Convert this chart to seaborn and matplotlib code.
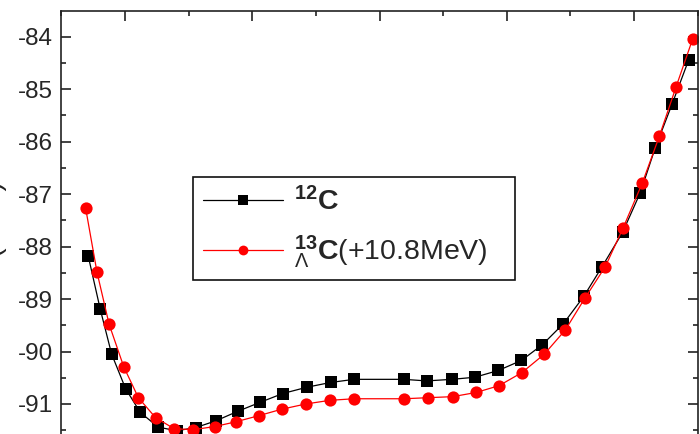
import matplotlib
matplotlib.use("Agg")
import matplotlib.pyplot as plt
from matplotlib.ticker import MultipleLocator
import numpy as np
import pandas as pd
import seaborn as sns

# Deformation grid and binding energies (MeV)
beta_c12 = [-0.458, -0.439, -0.421, -0.399, -0.376, -0.348, -0.319, -0.289, -0.257,
            -0.223, -0.188, -0.152, -0.114, -0.077, -0.040, 0.038, 0.074, 0.114,
            0.150, 0.187, 0.223, 0.256, 0.289, 0.321, 0.350, 0.382, 0.410, 0.433,
            0.460, 0.486]
energy_c12 = [-88.17, -89.19, -90.05, -90.71, -91.16, -91.44, -91.51, -91.45, -91.32,
              -91.14, -90.97, -90.80, -90.68, -90.59, -90.53, -90.53, -90.56, -90.53,
              -90.49, -90.36, -90.17, -89.87, -89.47, -88.95, -88.38, -87.73, -86.97,
              -86.13, -85.28, -84.44]

beta_c13l = [-0.462, -0.444, -0.425, -0.402, -0.379, -0.352, -0.323, -0.293, -0.259,
             -0.226, -0.189, -0.154, -0.116, -0.078, -0.040, 0.039, 0.076, 0.115,
             0.152, 0.188, 0.224, 0.259, 0.292, 0.323, 0.355, 0.383, 0.413, 0.440,
             0.466, 0.492]
energy_c13l = [-87.26, -88.49, -89.48, -90.29, -90.88, -91.26, -91.47, -91.49, -91.43,
               -91.34, -91.22, -91.10, -91.00, -90.93, -90.90, -90.90, -90.88, -90.86,
               -90.78, -90.65, -90.40, -90.05, -89.59, -88.98, -88.38, -87.64, -86.79,
               -85.89, -84.96, -84.05]

label_c12 = r"$\mathbf{{}^{12}C}$"
label_c13l = r"${}^{\mathbf{13}}_{\Lambda}\mathbf{C}$(+10.8MeV)"

y_ticks = [-84, -85, -86, -87, -88, -89, -90, -91]

df = pd.concat([
    pd.DataFrame({"beta": beta_c12, "E": energy_c12, "nucleus": label_c12}),
    pd.DataFrame({"beta": beta_c13l, "E": energy_c13l, "nucleus": label_c13l}),
], ignore_index=True)

sns.set_theme(style="ticks")
plt.rcParams["font.family"] = ["Liberation Sans", "DejaVu Sans"]
plt.rcParams["mathtext.fontset"] = "custom"
plt.rcParams["mathtext.rm"] = "Liberation Sans"
plt.rcParams["mathtext.bf"] = "Liberation Sans:bold"
plt.rcParams["mathtext.it"] = "Liberation Sans:italic"

fig = plt.figure(figsize=(7.0, 4.34), dpi=100)
ax = fig.add_axes([0.0877, -0.0300, 0.9089, 1.0046])

sns.lineplot(
    data=df, x="beta", y="E", hue="nucleus", style="nucleus",
    hue_order=[label_c12, label_c13l], style_order=[label_c12, label_c13l],
    palette={label_c12: "#000000", label_c13l: "#ff0000"},
    markers={label_c12: "s", label_c13l: "o"},
    dashes=False, estimator=None, sort=True,
    markersize=8.8, markeredgewidth=0, linewidth=0.9, ax=ax,
)

ax.set_xlim(-0.5, 0.5)
ax.set_ylim(-91.82, -83.51)
ax.set_yticks(y_ticks)
ax.set_yticklabels([str(t) for t in y_ticks])
ax.yaxis.set_minor_locator(MultipleLocator(0.5))
ax.xaxis.set_major_locator(MultipleLocator(0.2))
ax.xaxis.set_minor_locator(MultipleLocator(0.1))
ax.tick_params(which="both", direction="in", top=True, right=True,
               labeltop=False, labelright=False, labelbottom=False,
               width=1.2, color="#222222")
ax.tick_params(which="major", length=7.5, labelsize=17.5, pad=6)
ax.tick_params(which="minor", length=3.8)
ax.set_xlabel("")
ax.set_ylabel("")
for sp in ax.spines.values():
    sp.set_visible(True)
    sp.set_linewidth(1.2)
    sp.set_color("#222222")

fig.text(0.010, 0.465, "E (MeV)", rotation=90, ha="right", va="center",
         fontsize=20, color="#222222")

leg = ax.legend(
    loc="upper left", bbox_to_anchor=(0.2069, 0.406, 0.506, 0.2133),
    mode="expand", borderaxespad=0, frameon=True, fancybox=False,
    framealpha=1, edgecolor="#111111", fontsize=20.5, handlelength=2.8,
    handletextpad=0.4, labelspacing=0.6, borderpad=0.35, markerscale=0.8,
)
leg.get_frame().set_linewidth(1.2)

fig.savefig("out.png", dpi=100)
